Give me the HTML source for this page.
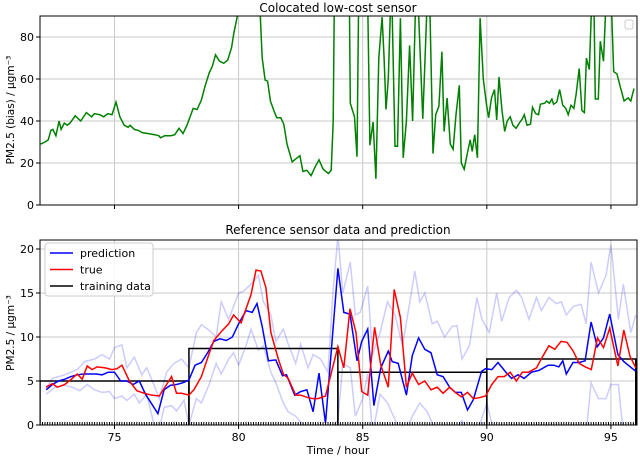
<!DOCTYPE html>
<html><head><meta charset="utf-8">
<style>
html,body{margin:0;padding:0;background:#fff;}
svg{display:block;font-family:"DejaVu Sans","Liberation Sans",sans-serif;}
</style></head>
<body>
<svg id="chart" width="640" height="456" viewBox="0 0 640 456" xmlns="http://www.w3.org/2000/svg">
<defs>
<clipPath id="c1"><rect x="40" y="16" width="597" height="189"/></clipPath>
<clipPath id="c2"><rect x="40" y="240" width="597" height="185"/></clipPath>
</defs>
<g id="topPanel"></g>
<g id="botPanel"></g>
</svg>
<script>
const greenT=[72.03,72.20,72.33,72.44,72.52,72.64,72.77,72.85,72.98,73.10,73.21,73.42,73.64,73.87,74.08,74.19,74.41,74.57,74.73,74.90,75.06,75.22,75.39,75.55,75.63,75.80,75.96,76.12,76.37,76.62,76.78,76.86,77.02,77.27,77.43,77.60,77.76,77.92,78.17,78.33,78.50,78.66,78.82,78.94,79.07,79.23,79.40,79.56,79.72,79.81,79.97,80.22,80.63,80.87,80.95,81.07,81.17,81.28,81.45,81.54,81.70,81.82,81.95,82.16,82.31,82.47,82.59,82.75,82.92,83.08,83.24,83.41,83.62,83.73,83.81,83.85,84.14,84.47,84.50,84.67,84.77,84.83,85.01,85.21,85.29,85.42,85.53,85.65,85.78,85.86,85.94,86.03,86.11,86.16,86.19,86.30,86.40,86.52,86.63,86.76,86.89,87.01,87.12,87.19,87.25,87.42,87.58,87.65,87.71,87.83,87.94,88.07,88.19,88.28,88.40,88.53,88.64,88.76,88.89,88.97,89.09,89.22,89.33,89.41,89.51,89.62,89.73,89.86,89.99,90.07,90.19,90.31,90.40,90.49,90.61,90.72,90.82,90.94,91.05,91.18,91.31,91.43,91.51,91.62,91.76,91.84,91.97,92.08,92.16,92.33,92.41,92.52,92.62,92.69,92.82,92.93,93.06,93.18,93.28,93.39,93.51,93.60,93.72,93.83,93.93,94.01,94.13,94.21,94.26,94.32,94.37,94.49,94.57,94.70,94.78,94.90,95.03,95.11,95.24,95.36,95.53,95.69,95.80,95.93];
const greenV=[29,30,31,35.5,36,33,40,36,39,38,39,42.5,40,44,42,43.5,43,42,43.5,43,49,42,38,37,38,36,35.5,34.5,34,33.5,33,32,33,33,33.5,36.5,34,38,46,45.5,50,57,63,66,71.5,68.5,67.5,69,75,82,91,130,130,91,70,59.5,59,49.5,44,41.5,41.5,38.5,29,20.5,22,23.5,16,16.5,14,18,21.5,17,15,16.5,40,91,150,91,48.5,42,23,91,140,91,28.5,39.5,12.5,70,89.5,70,45.5,60,91,120,91,28,28,89,22.5,40,76,40,91,130,91,41,91,130,91,24.5,43,47,73,35,51,29,26.5,43,57,20,17,25,31,25.5,33.5,22.5,89,60,47.5,41.5,51,55,40.5,61,45,35,40,42,38,36.5,39,41,43,38,38.5,46.5,43.5,43,48,48.5,49.5,48.5,50.5,48,49,55,47.5,46,43,47.5,46,53,65,45,44,70,64.5,91,120,91,50.5,50.5,78,68.5,91,130,91,63.5,62.5,57,49.5,51,49.5,55.5];
const predT=[72.25,72.5,72.75,73.0,73.25,73.5,73.75,74.0,74.25,74.5,74.75,75.0,75.25,75.5,75.75,76.0,76.25,76.75,77.0,77.25,77.5,77.75,78.0,78.25,78.5,78.75,79.0,79.25,79.5,79.75,80.0,80.3,80.55,80.74,80.95,81.2,81.5,81.77,81.93,82.26,82.5,82.75,83.0,83.24,83.5,84.0,84.24,84.49,84.77,84.96,85.2,85.45,85.73,86.03,86.19,86.43,86.76,87.0,87.25,87.5,87.75,88.0,88.24,88.5,88.73,88.97,89.22,89.46,89.79,89.95,90.2,90.45,90.77,91.0,91.26,91.5,91.8,92.1,92.47,92.7,92.9,93.06,93.2,93.47,93.72,93.96,94.2,94.45,94.7,94.95,95.28,95.52,96.0];
const predV=[4.0,4.6,5.0,5.2,5.5,5.7,5.8,5.8,5.8,5.7,6.0,6.0,5.0,5.0,4.6,5.0,3.5,1.3,4.0,4.5,4.6,4.8,5.1,6.8,7.1,8.2,9.5,9.8,9.6,10.0,11.5,13.0,12.8,13.8,11.2,7.3,7.4,5.6,5.7,3.4,3.8,4.0,1.5,5.9,0.2,17.8,12.8,12.6,7.3,9.5,10.9,2.2,6.5,8.4,7.2,7.0,3.4,7.9,9.9,8.6,8.2,5.7,5.5,4.3,3.7,3.7,1.7,2.9,6.1,6.4,6.3,7.1,6.0,5.3,5.7,5.3,6.0,6.2,6.8,6.8,6.6,7.3,5.8,7.1,7.1,7.3,11.7,8.9,9.9,12.6,8.0,7.2,6.1];
const trueT=[72.25,72.5,72.7,73.0,73.3,73.5,73.7,73.9,74.1,74.3,74.6,74.9,75.1,75.3,75.6,75.9,76.2,76.5,76.8,77.1,77.3,77.5,77.7,78.0,78.2,78.5,78.8,79.0,79.3,79.6,79.8,80.1,80.3,80.5,80.7,80.9,81.1,81.3,81.6,81.8,82.0,82.3,82.5,82.8,83.0,83.2,83.5,84.0,84.24,84.49,84.73,84.96,85.2,85.48,85.73,86.03,86.27,86.52,86.76,87.0,87.25,87.5,87.75,88.0,88.24,88.5,88.73,88.97,89.22,89.46,89.7,89.95,90.2,90.45,90.7,90.94,91.19,91.43,91.68,92.0,92.25,92.5,92.74,92.99,93.23,93.48,93.72,93.97,94.21,94.46,94.7,94.95,95.28,95.52,95.77,96.0];
const trueV=[4.3,4.7,4.3,4.6,5.3,5.8,5.2,6.7,6.3,6.6,6.5,6.3,6.4,6.8,5.0,3.9,3.6,3.4,3.3,4.6,5.5,3.6,3.6,3.4,4.0,5.5,8.0,9.6,10.6,11.5,12.5,11.6,13.2,14.8,17.6,17.5,15.6,10.5,7.5,5.8,5.3,3.4,3.4,3.1,3.0,3.0,3.3,8.9,6.5,13.2,10.5,3.8,3.4,11.1,6.8,4.3,15.4,12.2,4.3,5.9,4.6,5.0,4.0,4.3,3.6,4.3,3.7,3.2,3.7,3.0,3.1,3.3,4.6,5.5,5.5,6.0,5.0,6.0,6.0,6.5,7.8,9.0,8.6,9.5,9.4,8.4,7.0,6.6,6.3,9.9,8.8,11.0,6.7,10.8,7.8,6.5];
const upT=[72.25,72.5,73,73.5,73.8,74.2,74.5,74.8,75.0,75.3,75.5,75.8,76.1,76.3,76.6,76.8,77.1,77.4,77.7,78.0,78.3,78.5,78.8,79.1,79.3,79.6,79.8,80.0,80.2,80.5,80.8,81.0,81.3,81.5,81.8,82.0,82.3,82.5,82.8,83.0,83.3,83.6,83.8,84.0,84.2,84.5,84.7,84.9,85.2,85.4,85.7,86.0,86.3,86.6,86.9,87.1,87.3,87.5,87.8,88.0,88.3,88.6,88.8,89.0,89.3,89.6,89.8,90.1,90.4,90.6,90.9,91.2,91.4,91.7,92.0,92.2,92.5,92.8,93.0,93.2,93.5,93.8,94.0,94.2,94.5,94.8,95.0,95.3,95.5,95.8,96.0];
const upV=[4.2,5.3,5.7,6.3,7.2,7.5,8.0,7.5,8.8,9.1,6.5,7.7,5.7,6.5,4.5,3.0,6.0,7.0,7.5,6.5,10.5,11.4,10.8,10.0,14.0,12.0,13.5,15.0,15.2,16.0,17.0,14.0,12.5,9.5,10.9,9.2,7.0,9.2,6.5,8.0,7.5,6.0,15.0,21.5,15.0,18.5,12.5,12.8,15.8,8.0,10.5,14.0,12.5,9.0,14.0,17.5,14.0,15.0,11.5,11.8,10.0,11.2,11.3,7.5,9.0,14.5,12.0,10.5,15.0,11.8,14.5,15.3,14.5,12.0,14.5,13.0,14.5,13.8,14.0,12.5,13.5,13.7,11.5,18.5,15.0,17.0,20.5,12.0,16.0,10.5,12.5];
const loT=[72.25,72.6,73,73.3,73.6,73.9,74.2,74.5,74.8,75.0,75.3,75.5,75.8,76.0,76.3,76.6,76.8,77.0,77.3,77.5,77.8,78.0,78.3,78.5,78.8,79.1,79.3,79.6,79.8,80.0,80.3,80.5,80.8,81.0,81.3,81.5,81.8,82.0,82.3,82.6,82.8,83.0,83.5,84.0,84.2,84.5,84.7,85.0,85.2,85.4,85.7,86.0,86.4,86.7,87.0,87.3,87.6,88.0,88.3,88.6,89.0,89.3,89.6,90.0,90.3,91.0,92.0,93.0,94.0,94.2,94.5,94.8,95.0,95.3,95.5,96.0];
const loV=[3.5,4.3,4.5,4.3,3.9,4.6,4.0,3.7,3.8,3.0,3.3,2.8,3.5,2.5,3.5,0.0,-0.5,2.0,2.2,1.6,2.8,0.0,3.0,2.5,4.5,7.0,5.8,7.5,8.2,6.8,9.0,10.9,8.5,9.0,6.0,4.8,2.5,1.5,1.0,0.0,-1,0.0,-1,0.5,7.0,6.5,1.0,3.0,5.8,-1,3.5,2.5,0.0,-1,1.0,2.5,1.5,-1,0.0,-1,0.5,-1,-1,2.5,-1,-1,-1,-1,-1,4.8,3.0,3.0,4.6,4.6,-1,-1];
const trainStart=[72,78,84,90];
const trainEnd=[78,84,90,96];
const trainLevel=[5.0,8.7,6.0,7.5];
const xTicks=[75,80,85,90,95];
const topYTicks=[0,20,40,60,80];
const botYTicks=[0,5,10,15,20];

const NS='http://www.w3.org/2000/svg';
const X0=40,X1=637,T0=72,T1=96.05;
const xs=t=>X0+(t-T0)/(T1-T0)*(X1-X0);
const yTop=v=>205-v*(205-37)/80;
const yBot=v=>425-v*(425-249)/20;
function mk(tag,attrs,parent){const e=document.createElementNS(NS,tag);for(const k in attrs)e.setAttribute(k,attrs[k]);parent.appendChild(e);return e;}
function txt(s,attrs,parent){const e=mk('text',attrs,parent);e.textContent=s;return e;}
function path(ts,vs,fy){return ts.map((t,i)=>(i?'L':'M')+xs(t).toFixed(1)+','+fy(vs[i]).toFixed(1)).join('');}

const topG=document.getElementById('topPanel'), botG=document.getElementById('botPanel');
[[topG,16,205,topYTicks,yTop],[botG,240,425,botYTicks,yBot]].forEach(([g,yt,yb,ticks,fy])=>{
  xTicks.forEach(t=>{const l=mk('line',{x1:xs(t),x2:xs(t),y1:yt,y2:yb,stroke:'#c8c8c8','stroke-width':1},g);
    
    
    mk('line',{x1:xs(t),x2:xs(t),y1:yb,y2:yb+4,stroke:'#000'},g);});
  ticks.forEach(v=>{const l=mk('line',{x1:X0,x2:X1,y1:fy(v),y2:fy(v),stroke:'#c8c8c8','stroke-width':1},g);
    
    
    mk('line',{x1:X0-4,x2:X0,y1:fy(v),y2:fy(v),stroke:'#000'},g);
    const tl=txt(String(v),{x:X0-6,y:fy(v)+4,'text-anchor':'end','font-size':11},g);
    
    });
});
const gl=mk('path',{d:path(greenT,greenV,yTop),fill:'none',stroke:'#008000','stroke-width':1.5,'clip-path':'url(#c1)'},topG);


mk('rect',{x:X0,y:16,width:X1-X0,height:189,fill:'none',stroke:'#000','stroke-width':1},topG);
const tt=txt('Colocated low-cost sensor',{x:338,y:12,'text-anchor':'middle','font-size':12},topG);


const lb=mk('rect',{x:625,y:20,width:8,height:9,rx:2,fill:'#fff',stroke:'#ccc'},topG);


const ty=txt('PM2.5 (bias) / μgm⁻³',{x:0,y:0,transform:'translate(14,110) rotate(-90)','text-anchor':'middle','font-size':10.5},topG);



const gb=mk('g',{'clip-path':'url(#c2)'},botG);
[[upT,upV,'upper-band-line'],[loT,loV,'lower-band-line']].forEach(([t,v,n])=>{
  const p=mk('path',{d:path(t,v,yBot),fill:'none',stroke:'#0000ff','stroke-opacity':0.2,'stroke-width':1.5},gb);
  
  
});
trainLevel.forEach((lv,i)=>{
  const d='M'+xs(trainStart[i])+','+yBot(0)+'L'+xs(trainStart[i])+','+yBot(lv)+'L'+xs(trainEnd[i])+','+yBot(lv)+'L'+xs(trainEnd[i])+','+yBot(0);
  const p=mk('path',{d:d,fill:'none',stroke:'#000','stroke-width':1.5},gb);
  
  
});
const pl=mk('path',{d:path(predT,predV,yBot),fill:'none',stroke:'#0000ff','stroke-width':1.5},gb);


const rl=mk('path',{d:path(trueT,trueV,yBot),fill:'none',stroke:'#ff0000','stroke-width':1.5},gb);


let rug='';
for(let k=0;k<=240;k++){const x=xs(72+k*0.1).toFixed(1);rug+='M'+x+','+(yBot(0)-3)+'L'+x+','+yBot(0);}
const rg=mk('path',{d:rug,stroke:'#000','stroke-width':1},gb);


mk('rect',{x:X0,y:240,width:X1-X0,height:185,fill:'none',stroke:'#000','stroke-width':1},botG);
xTicks.forEach(t=>{const l=txt(String(t),{x:xs(t),y:441,'text-anchor':'middle','font-size':11},botG);
  
  });
const bt=txt('Reference sensor data and prediction',{x:338,y:234,'text-anchor':'middle','font-size':12},botG);


const by=txt('PM2.5 / μgm⁻³',{x:0,y:0,transform:'translate(14,333) rotate(-90)','text-anchor':'middle','font-size':10.5},botG);


const xl=txt('Time / hour',{x:338,y:454,'text-anchor':'middle','font-size':11},botG);


const lg=mk('g',{},botG);


mk('rect',{x:45,y:243,width:108,height:53,rx:3,fill:'#fff','fill-opacity':0.85,stroke:'#ccc'},lg);
[['prediction','#0000ff'],['true','#ff0000'],['training data','#000']].forEach(([n,c],i)=>{
  const y=253+i*16.5;
  mk('line',{x1:50,x2:73,y1:y,y2:y,stroke:c,'stroke-width':1.5},lg);
  const e=txt(n,{x:80,y:y+4,'font-size':11},lg);
  
  
});
</script>
</body></html>
